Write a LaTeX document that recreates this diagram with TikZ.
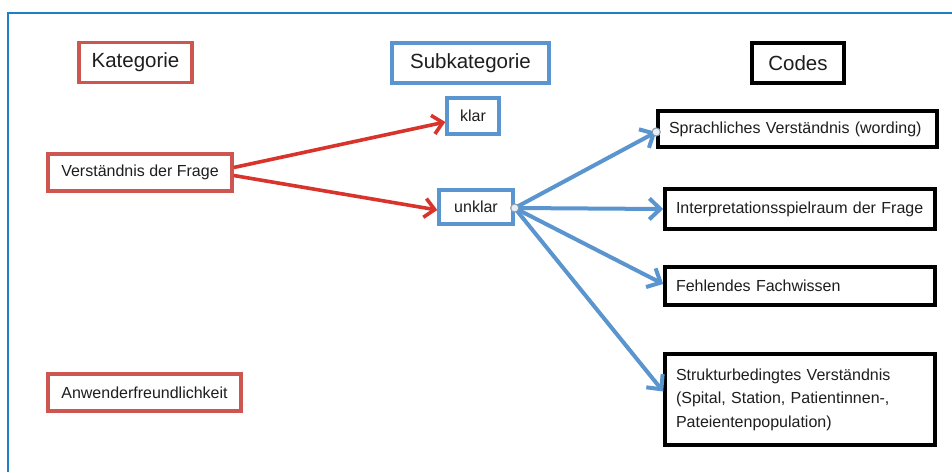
\documentclass[tikz,border=0pt]{standalone}
\usepackage{fontspec}
\setmainfont{Liberation Sans}
\usepackage{xcolor}
\usepackage{tikz}
\usetikzlibrary{arrows.meta}
\definecolor{textc}{HTML}{1E1E1E}
\definecolor{katred}{HTML}{CD5650}
\definecolor{arrred}{HTML}{D8342B}
\definecolor{subblue}{HTML}{5B95CF}
\definecolor{frameblue}{HTML}{1F7FC4}
\definecolor{dotgray}{HTML}{8C9AA6}
\tikzset{
  head/.style={draw, line width=3.4pt, text=textc, font=\fontsize{20.5}{24}\selectfont, minimum height=40pt},
  kat/.style={draw=katred, line width=3.4pt, text=textc, font=\fontsize{16}{19}\selectfont, minimum height=37pt},
  sub/.style={draw=subblue, line width=3.4pt, text=textc, font=\fontsize{16}{19}\selectfont},
  code/.style={draw=black, line width=3.6pt, text=textc, font=\fontsize{16}{23.5}\selectfont,
    align=left, inner xsep=11pt, text width=248pt},
  redarr/.style={draw=arrred, line width=3.6pt, -{Straight Barb[length=10pt,width=19pt,line width=3.6pt]}},
  bluearr/.style={draw=subblue, line width=4pt, -{Straight Barb[length=11pt,width=21pt,line width=4pt]}},
  knob/.style={circle, draw=dotgray, fill=white!85!subblue, line width=0.9pt, inner sep=0pt, minimum size=8pt},
}
\begin{document}
\begin{tikzpicture}[x=1pt,y=-1pt]
  \useasboundingbox (0,0) rectangle (952,472);
  \fill[white] (0,0) rectangle (952,472);
  \draw[frameblue, line width=2.6pt] (8,472) -- (8,13) -- (952,13);
  % column heads
  \node[head, draw=katred, minimum width=113pt] (kathead) at (135.5,62.5) {Kategorie};
  \node[head, draw=subblue, minimum width=157pt] (subhead) at (470.5,63) {Subkategorie};
  \node[head, draw=black, minimum width=92pt] (codehead) at (798,63) {Codes};
  % categories
  \node[kat, minimum width=184pt] (verst) at (140,172.5) {Verständnis der Frage};
  \node[kat, minimum width=193pt] (anwend) at (144.5,392.5) {Anwenderfreundlichkeit};
  % subcategories
  \node[sub, minimum width=52pt, minimum height=36pt] (klar) at (473,116) {klar};
  \node[sub, minimum width=74pt, minimum height=34pt] (unklar) at (476,207) {unklar};
  % codes
  \node[code, text width=257pt, minimum height=36pt] (sprach) at (797.5,129) {Sprachliches Verständnis (wording)};
  \node[code, minimum height=40pt] (interp) at (800,209) {Interpretationsspielraum der Frage};
  \node[code, minimum height=38pt] (fehl) at (800,286) {Fehlendes Fachwissen};
  \node[code, minimum height=91pt] (struk) at (800,399.5) {Strukturbedingtes Verständnis\\(Spital, Station, Patientinnen-,\\Pateientenpopulation)};
  % arrows
  \draw[redarr] ([yshift=5pt]verst.east) -- ([yshift=-6pt]klar.west);
  \draw[redarr] ([yshift=-3pt]verst.east) -- ([yshift=-3pt]unklar.west);
  \node[knob] (ustart) at ([yshift=-1pt]unklar.east) {};
  \node[knob] (send) at ([yshift=-3pt]sprach.west) {};
  \draw[bluearr] (ustart.center) -- (send.center);
  \draw[bluearr] (ustart.center) -- (interp.west);
  \draw[bluearr] (ustart.center) -- ([yshift=2pt]fehl.west);
  \draw[bluearr] (ustart.center) -- ([yshift=8pt]struk.west);
  \node[knob] at (ustart) {};
  \node[knob] at (send) {};
\end{tikzpicture}
\end{document}
